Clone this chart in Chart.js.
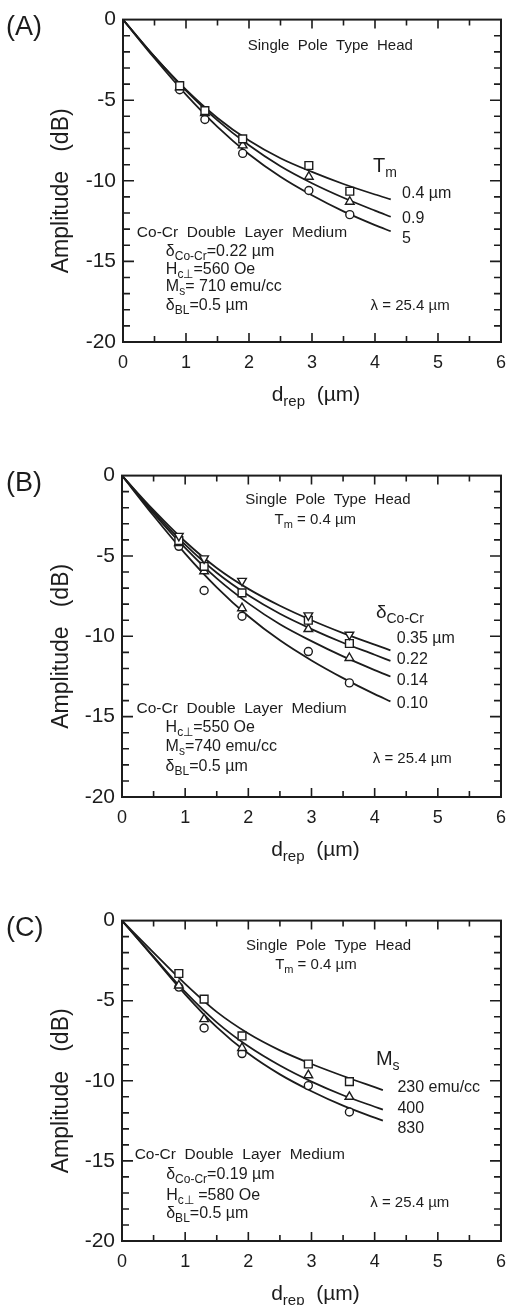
<!DOCTYPE html>
<html>
<head>
<meta charset="utf-8">
<script src="https://cdn.jsdelivr.net/npm/chart.js@4.4.0/dist/chart.umd.min.js"></script>
<style>
  html, body { margin: 0; padding: 0; background: #fff; }
  body { width: 516px; height: 1305px; position: relative; overflow: hidden; }
  canvas { position: absolute; left: 0; }
</style>
</head>
<body>
<canvas id="chartA" width="516" height="456" style="top:0px"></canvas>
<canvas id="chartB" width="516" height="445" style="top:456px"></canvas>
<canvas id="chartC" width="516" height="404" style="top:901px"></canvas>
<script>
// measured points (same d_rep values in all three panels)
var xMeasured = [0.9, 1.3, 1.9, 2.95, 3.6];
var xCurve = [0, 0.5, 1, 1.5, 2, 2.5, 3, 3.5, 4, 4.25];
var xCurveC = [0, 0.5, 1, 1.5, 2, 2.5, 3, 3.5, 4, 4.13];

// (A) Tm = 0.4 um, 0.9, 5
var aMeas04 = [-4.1, -5.65, -7.4, -9.05, -10.65];
var aMeas09 = [-4.2, -5.8, -7.8, -9.75, -11.3];
var aMeas5 = [-4.35, -6.2, -8.3, -10.6, -12.1];
var aFit04 = [0, -2.3, -4.35, -6.1, -7.5, -8.6, -9.45, -10.2, -10.85, -11.15];
var aFit09 = [0, -2.3, -4.4, -6.25, -7.8, -9.1, -10.15, -11.05, -11.85, -12.23];
var aFit5 = [0, -2.4, -4.65, -6.65, -8.35, -9.75, -10.9, -11.9, -12.75, -13.13];

// (B) delta Co-Cr = 0.35 um, 0.22, 0.14, 0.10
var bMeas035 = [-3.75, -5.15, -6.55, -8.7, -9.9];
var bMeas022 = [-4.05, -5.65, -7.3, -9.0, -10.45];
var bMeas014 = [-4.2, -5.95, -8.25, -9.55, -11.35];
var bMeas010 = [-4.4, -7.15, -8.75, -10.95, -12.9];
var bFit035 = [0, -2.15, -4.1, -5.75, -7.05, -8.1, -9.0, -9.8, -10.52, -10.87];
var bFit022 = [0, -2.25, -4.3, -6.05, -7.45, -8.6, -9.55, -10.4, -11.15, -11.53];
var bFit014 = [0, -2.35, -4.5, -6.4, -7.95, -9.25, -10.3, -11.25, -12.1, -12.5];
var bFit010 = [0, -2.5, -4.85, -6.95, -8.75, -10.25, -11.5, -12.6, -13.6, -14.05];

// (C) Ms = 230 emu/cc, 400, 830
var cMeas230 = [-3.3, -4.9, -7.2, -8.95, -10.05];
var cMeas400 = [-4.05, -6.15, -7.95, -9.65, -11.0];
var cMeas830 = [-4.15, -6.7, -8.3, -10.3, -11.95];
var cFit230 = [0, -2.0, -3.95, -5.7, -7.05, -8.1, -8.95, -9.7, -10.4, -10.58];
var cFit400 = [0, -2.25, -4.45, -6.35, -7.85, -9.05, -10.05, -10.9, -11.62, -11.8];
var cFit830 = [0, -2.3, -4.6, -6.65, -8.3, -9.6, -10.65, -11.55, -12.3, -12.49];

var xTickValues = [0, 1, 2, 3, 4, 5, 6];
var yTickValues = [0, -5, -10, -15, -20];

var INK = '#1c1c1c';
var FONT = "'Liberation Sans', Arial, sans-serif";

function pts(xs, ys) {
    return xs.map(function(x, i) { return { x: x, y: ys[i] }; });
}

function fitLine(xs, ys) {
    return {
        data: pts(xs, ys), showLine: true, borderColor: INK, borderWidth: 1.8,
        pointRadius: 0, cubicInterpolationMode: 'monotone', fill: false, order: 2
    };
}

function markers(ys, style, r, rot) {
    return {
        data: pts(xMeasured, ys), showLine: false, pointStyle: style, pointRadius: r,
        rotation: rot || 0, pointBorderColor: INK, pointBackgroundColor: '#fff',
        pointBorderWidth: 1.4, order: 1
    };
}

// rich text: parts = [[text, 'sub'?], ...]
function drawRich(ctx, item, px, py) {
    var size = item.size;
    var fonts = item.parts.map(function(p) {
        return (p[1] === 'sub' ? Math.round(size * 0.72) : size) + 'px ' + FONT;
    });
    var widths = item.parts.map(function(p, i) {
        ctx.font = fonts[i];
        return ctx.measureText(p[0]).width;
    });
    var total = widths.reduce(function(a, b) { return a + b; }, 0);
    var x = item.align === 'center' ? px - total / 2 : px;
    ctx.textAlign = 'left';
    ctx.textBaseline = 'middle';
    item.parts.forEach(function(p, i) {
        ctx.font = fonts[i];
        ctx.fillText(p[0], x, p[1] === 'sub' ? py + size * 0.32 : py);
        x += widths[i];
    });
}

var framePlugin = {
    id: 'frame',
    afterDraw: function(chart, args, opts) {
        var ctx = chart.ctx, a = chart.chartArea;
        var xs = chart.scales.x, ys = chart.scales.y;
        ctx.save();
        ctx.strokeStyle = INK;
        ctx.lineWidth = 2;
        ctx.strokeRect(a.left, a.top, a.right - a.left, a.bottom - a.top);
        ctx.lineWidth = 1.6;
        ctx.beginPath();
        for (var v = 0.5; v < 6; v += 0.5) {
            var px = xs.getPixelForValue(v);
            var len = (v % 1 === 0) ? 9 : 6;
            ctx.moveTo(px, a.bottom); ctx.lineTo(px, a.bottom - len);
            ctx.moveTo(px, a.top); ctx.lineTo(px, a.top + len);
        }
        for (var w = -1; w > -20; w -= 1) {
            var py = ys.getPixelForValue(w);
            var l2 = (w % 5 === 0) ? 11 : 7;
            ctx.moveTo(a.left, py); ctx.lineTo(a.left + l2, py);
            ctx.moveTo(a.right, py); ctx.lineTo(a.right - l2, py);
        }
        ctx.stroke();

        ctx.fillStyle = INK;
        // panel letter
        ctx.font = '27px ' + FONT;
        ctx.textAlign = 'left';
        ctx.textBaseline = 'middle';
        ctx.fillText(opts.letter, 6, 28);

        // y title
        ctx.save();
        ctx.translate(62, (a.top + a.bottom) / 2 + 10);
        ctx.rotate(-Math.PI / 2);
        ctx.font = '23px ' + FONT;
        ctx.textAlign = 'center';
        ctx.fillText('Amplitude   (dB)', 0, 0);
        ctx.restore();

        // x title
        drawRich(ctx, { size: 21, align: 'center', parts: [['d'], ['rep', 'sub'], ['  (µm)']] },
            (a.left + a.right) / 2 + 4, a.bottom + 53);

        opts.notes.forEach(function(n) {
            drawRich(ctx, n, xs.getPixelForValue(n.x), ys.getPixelForValue(n.y));
        });
        ctx.restore();
    }
};

function makeChart(id, datasets, geo, letter, notes) {
    var H = document.getElementById(id).height;
    return new Chart(document.getElementById(id), {
        type: 'scatter',
        data: { datasets: datasets },
        options: {
            responsive: false,
            animation: false,
            layout: { padding: { top: 16, right: 516 - geo.right, left: 0, bottom: 0 } },
            plugins: { legend: { display: false }, tooltip: { enabled: false }, frame: { letter: letter, notes: notes } },
            scales: {
                x: {
                    type: 'linear', min: 0, max: 6,
                    afterBuildTicks: function(s) { s.ticks = xTickValues.map(function(v) { return { value: v }; }); },
                    ticks: { color: INK, font: { family: FONT, size: 18 }, padding: 10, maxRotation: 0 },
                    grid: { display: false, drawTicks: false },
                    border: { display: false },
                    afterFit: function(s) { s.height = H - geo.bottom; }
                },
                y: {
                    type: 'linear', min: -20, max: 0,
                    afterBuildTicks: function(s) { s.ticks = yTickValues.map(function(v) { return { value: v }; }); },
                    ticks: { color: INK, font: { family: FONT, size: 21 }, padding: 7 },
                    grid: { display: false, drawTicks: false },
                    border: { display: false },
                    afterFit: function(s) { s.width = geo.left; }
                }
            }
        },
        plugins: [framePlugin]
    });
}

makeChart('chartA', [
    markers(aMeas04, 'rect', 5.5), markers(aMeas09, 'triangle', 5), markers(aMeas5, 'circle', 4),
    fitLine(xCurve, aFit04), fitLine(xCurve, aFit09), fitLine(xCurve, aFit5)
], { left: 123, right: 512, bottom: 342 }, '(A)', [
    { x: 3.29, y: -1.66, align: 'center', size: 15, parts: [['Single  Pole  Type  Head']] },
    { x: 3.97, y: -9.1, size: 20, parts: [['T'], ['m', 'sub']] },
    { x: 4.43, y: -10.8, size: 16, parts: [['0.4 µm']] },
    { x: 4.43, y: -12.33, size: 16, parts: [['0.9']] },
    { x: 4.43, y: -13.56, size: 16, parts: [['5']] },
    { x: 0.22, y: -13.2, size: 15.5, parts: [['Co-Cr  Double  Layer  Medium']] },
    { x: 0.68, y: -14.4, size: 16, parts: [['δ'], ['Co-Cr', 'sub'], ['=0.22 µm']] },
    { x: 0.68, y: -15.5, size: 16, parts: [['H'], ['c⊥', 'sub'], ['=560 Oe']] },
    { x: 0.68, y: -16.56, size: 16, parts: [['M'], ['s', 'sub'], ['= 710 emu/cc']] },
    { x: 0.68, y: -17.73, size: 16, parts: [['δ'], ['BL', 'sub'], ['=0.5 µm']] },
    { x: 3.93, y: -17.73, size: 15, parts: [['λ = 25.4 µm']] }
]);

makeChart('chartB', [
    markers(bMeas035, 'triangle', 5, 180), markers(bMeas022, 'rect', 5.5),
    markers(bMeas014, 'triangle', 5), markers(bMeas010, 'circle', 4),
    fitLine(xCurve, bFit035), fitLine(xCurve, bFit022), fitLine(xCurve, bFit014), fitLine(xCurve, bFit010)
], { left: 122, right: 512, bottom: 341 }, '(B)', [
    { x: 3.26, y: -1.54, align: 'center', size: 15, parts: [['Single  Pole  Type  Head']] },
    { x: 3.06, y: -2.77, align: 'center', size: 15, parts: [['T'], ['m', 'sub'], [' = 0.4 µm']] },
    { x: 4.02, y: -8.55, size: 19, parts: [['δ'], ['Co-Cr', 'sub']] },
    { x: 4.35, y: -10.15, size: 16, parts: [['0.35 µm']] },
    { x: 4.35, y: -11.45, size: 16, parts: [['0.22']] },
    { x: 4.35, y: -12.74, size: 16, parts: [['0.14']] },
    { x: 4.35, y: -14.2, size: 16, parts: [['0.10']] },
    { x: 0.23, y: -14.5, size: 15.5, parts: [['Co-Cr  Double  Layer  Medium']] },
    { x: 0.69, y: -15.7, size: 16, parts: [['H'], ['c⊥', 'sub'], ['=550 Oe']] },
    { x: 0.69, y: -16.86, size: 16, parts: [['M'], ['s', 'sub'], ['=740 emu/cc']] },
    { x: 0.69, y: -18.1, size: 16, parts: [['δ'], ['BL', 'sub'], ['=0.5 µm']] },
    { x: 3.97, y: -17.6, size: 15, parts: [['λ = 25.4 µm']] }
]);

makeChart('chartC', [
    markers(cMeas230, 'rect', 5.5), markers(cMeas400, 'triangle', 5), markers(cMeas830, 'circle', 4),
    fitLine(xCurveC, cFit230), fitLine(xCurveC, cFit400), fitLine(xCurveC, cFit830)
], { left: 122, right: 511, bottom: 340 }, '(C)', [
    { x: 3.27, y: -1.6, align: 'center', size: 15, parts: [['Single  Pole  Type  Head']] },
    { x: 3.07, y: -2.78, align: 'center', size: 15, parts: [['T'], ['m', 'sub'], [' = 0.4 µm']] },
    { x: 4.02, y: -8.7, size: 20, parts: [['M'], ['s', 'sub']] },
    { x: 4.36, y: -10.43, size: 16, parts: [['230 emu/cc']] },
    { x: 4.36, y: -11.73, size: 16, parts: [['400']] },
    { x: 4.36, y: -12.96, size: 16, parts: [['830']] },
    { x: 0.2, y: -14.63, size: 15.5, parts: [['Co-Cr  Double  Layer  Medium']] },
    { x: 0.7, y: -15.86, size: 16, parts: [['δ'], ['Co-Cr', 'sub'], ['=0.19 µm']] },
    { x: 0.7, y: -17.16, size: 16, parts: [['H'], ['c⊥', 'sub'], [' =580 Oe']] },
    { x: 0.7, y: -18.27, size: 16, parts: [['δ'], ['BL', 'sub'], ['=0.5 µm']] },
    { x: 3.93, y: -17.65, size: 15, parts: [['λ = 25.4 µm']] }
]);
</script>
</body>
</html>
